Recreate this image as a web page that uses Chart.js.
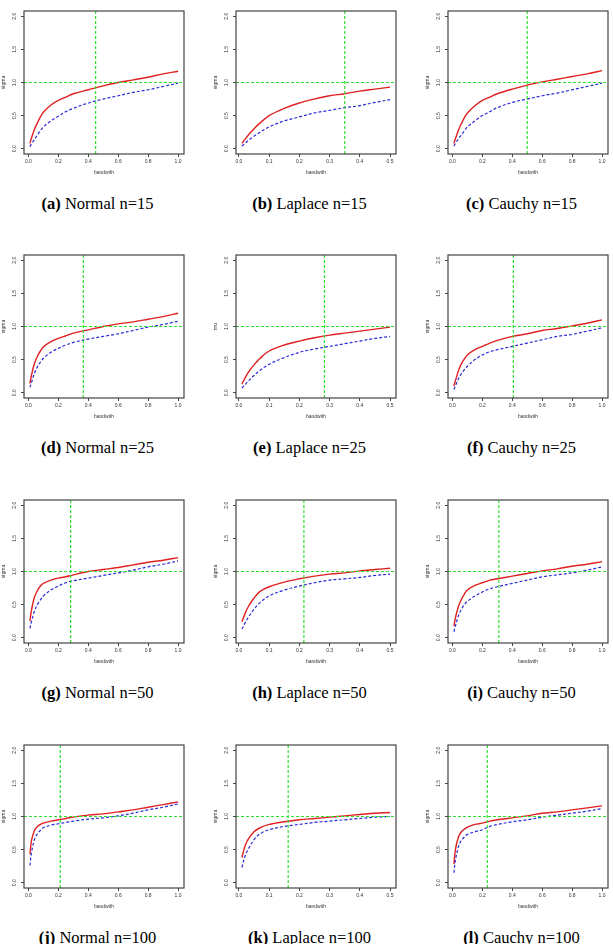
<!DOCTYPE html>
<html>
<head>
<meta charset="utf-8">
<script src="https://cdn.jsdelivr.net/npm/chart.js@4"></script>
<style>
    body { margin: 0; width: 613px; height: 944px; background: #fff; position: relative; overflow: hidden; }
    .panel { position: absolute; }
    .cap {
        position: absolute; white-space: nowrap; transform: translateX(-50%);
        font-family: "Liberation Serif", "DejaVu Serif", serif; font-size: 16.5px; line-height: 16px; color: #000;
    }
</style>
</head>
<body>
<script>
/* ---------- Data ---------- */

const BW_FULL = [0.01, 0.02, 0.04, 0.06, 0.08, 0.1, 0.15, 0.2, 0.25, 0.3, 0.4, 0.5, 0.6, 0.7, 0.8, 0.9, 1.0];
const BW_HALF = [0.01, 0.02, 0.03, 0.05, 0.07, 0.1, 0.15, 0.2, 0.25, 0.3, 0.35, 0.4, 0.45, 0.5];

const X_TICKS_FULL = [0, 0.2, 0.4, 0.6, 0.8, 1.0];
const X_TICKS_HALF = [0, 0.1, 0.2, 0.3, 0.4, 0.5];
const Y_TICKS = [0, 0.5, 1.0, 1.5, 2.0];
const X_RANGE_FULL = [-0.0296, 1.0396];
const X_RANGE_HALF = [-0.0096, 0.5196];
const Y_RANGE = [-0.08, 2.08];
const REF_LEVEL = 1.0;

// Normal
const RED_A  = [0.08, 0.16, 0.29, 0.39, 0.48, 0.55, 0.66, 0.73, 0.78, 0.83, 0.89, 0.95, 1.00, 1.04, 1.08, 1.13, 1.17];
const BLUE_A = [0.03, 0.07, 0.14, 0.21, 0.27, 0.33, 0.42, 0.49, 0.56, 0.61, 0.69, 0.75, 0.80, 0.85, 0.89, 0.94, 0.99];
const RED_D  = [0.14, 0.26, 0.44, 0.55, 0.63, 0.69, 0.77, 0.82, 0.86, 0.90, 0.95, 1.00, 1.04, 1.07, 1.11, 1.15, 1.20];
const BLUE_D = [0.08, 0.15, 0.29, 0.39, 0.46, 0.52, 0.61, 0.67, 0.72, 0.76, 0.81, 0.85, 0.89, 0.94, 0.99, 1.03, 1.08];
const RED_G  = [0.25, 0.41, 0.61, 0.71, 0.78, 0.82, 0.87, 0.90, 0.92, 0.95, 1.00, 1.03, 1.06, 1.10, 1.14, 1.17, 1.21];
const BLUE_G = [0.14, 0.24, 0.40, 0.50, 0.57, 0.63, 0.72, 0.78, 0.83, 0.86, 0.90, 0.94, 0.98, 1.02, 1.07, 1.11, 1.16];
const RED_J  = [0.43, 0.63, 0.79, 0.85, 0.88, 0.90, 0.93, 0.95, 0.97, 0.99, 1.02, 1.04, 1.07, 1.10, 1.14, 1.18, 1.22];
const BLUE_J = [0.26, 0.45, 0.65, 0.74, 0.79, 0.83, 0.87, 0.89, 0.91, 0.93, 0.96, 0.98, 1.01, 1.05, 1.10, 1.14, 1.19];

// Laplace
const RED_B  = [0.08, 0.14, 0.20, 0.30, 0.39, 0.50, 0.61, 0.69, 0.75, 0.80, 0.83, 0.87, 0.90, 0.93];
const BLUE_B = [0.04, 0.08, 0.12, 0.19, 0.25, 0.33, 0.42, 0.48, 0.54, 0.58, 0.62, 0.65, 0.70, 0.74];
const RED_E  = [0.13, 0.22, 0.30, 0.42, 0.52, 0.63, 0.72, 0.78, 0.83, 0.87, 0.90, 0.93, 0.96, 0.99];
const BLUE_E = [0.07, 0.12, 0.17, 0.26, 0.34, 0.43, 0.53, 0.61, 0.66, 0.70, 0.74, 0.78, 0.82, 0.85];
const RED_H  = [0.24, 0.36, 0.46, 0.60, 0.70, 0.77, 0.84, 0.89, 0.93, 0.96, 0.98, 1.01, 1.03, 1.05];
const BLUE_H = [0.13, 0.22, 0.30, 0.43, 0.53, 0.63, 0.72, 0.78, 0.83, 0.87, 0.89, 0.91, 0.94, 0.96];
const RED_K  = [0.38, 0.55, 0.65, 0.77, 0.83, 0.88, 0.92, 0.95, 0.97, 0.99, 1.01, 1.03, 1.05, 1.06];
const BLUE_K = [0.23, 0.40, 0.50, 0.65, 0.74, 0.80, 0.85, 0.88, 0.91, 0.93, 0.95, 0.97, 0.99, 1.00];

// Cauchy
const RED_C  = [0.08, 0.15, 0.28, 0.38, 0.47, 0.54, 0.65, 0.73, 0.78, 0.83, 0.90, 0.96, 1.01, 1.05, 1.09, 1.13, 1.18];
const BLUE_C = [0.04, 0.08, 0.15, 0.21, 0.27, 0.33, 0.42, 0.50, 0.56, 0.62, 0.70, 0.75, 0.80, 0.84, 0.89, 0.94, 0.99];
const RED_F  = [0.10, 0.18, 0.33, 0.44, 0.51, 0.57, 0.65, 0.70, 0.75, 0.79, 0.85, 0.89, 0.94, 0.97, 1.01, 1.05, 1.10];
const BLUE_F = [0.05, 0.10, 0.21, 0.29, 0.35, 0.40, 0.50, 0.57, 0.62, 0.65, 0.70, 0.75, 0.80, 0.85, 0.88, 0.93, 0.98];
const RED_I  = [0.18, 0.30, 0.47, 0.58, 0.66, 0.72, 0.79, 0.83, 0.87, 0.89, 0.93, 0.97, 1.01, 1.04, 1.08, 1.11, 1.15];
const BLUE_I = [0.09, 0.18, 0.33, 0.43, 0.50, 0.55, 0.63, 0.69, 0.74, 0.77, 0.82, 0.87, 0.92, 0.95, 0.98, 1.02, 1.07];
const RED_L  = [0.28, 0.50, 0.69, 0.77, 0.81, 0.84, 0.88, 0.90, 0.93, 0.95, 0.98, 1.01, 1.05, 1.07, 1.10, 1.13, 1.16];
const BLUE_L = [0.15, 0.34, 0.54, 0.64, 0.69, 0.73, 0.77, 0.80, 0.85, 0.88, 0.92, 0.95, 0.99, 1.02, 1.05, 1.08, 1.12];

// selected bandwidths (vertical green lines)
const H_SEL = { a: 0.449, b: 0.35, c: 0.50, d: 0.367, e: 0.283, f: 0.407,
                g: 0.282, h: 0.215, i: 0.31, j: 0.213, k: 0.163, l: 0.233 };

const PANELS = [
    { tag: "a", title: "Normal n=15",   bw: BW_FULL, red: RED_A, blue: BLUE_A, ylab: "sigma" },
    { tag: "b", title: "Laplace n=15",  bw: BW_HALF, red: RED_B, blue: BLUE_B, ylab: "sigma" },
    { tag: "c", title: "Cauchy n=15",   bw: BW_FULL, red: RED_C, blue: BLUE_C, ylab: "sigma" },
    { tag: "d", title: "Normal n=25",   bw: BW_FULL, red: RED_D, blue: BLUE_D, ylab: "sigma" },
    { tag: "e", title: "Laplace n=25",  bw: BW_HALF, red: RED_E, blue: BLUE_E, ylab: "mu" },
    { tag: "f", title: "Cauchy n=25",   bw: BW_FULL, red: RED_F, blue: BLUE_F, ylab: "sigma" },
    { tag: "g", title: "Normal n=50",   bw: BW_FULL, red: RED_G, blue: BLUE_G, ylab: "sigma" },
    { tag: "h", title: "Laplace n=50",  bw: BW_HALF, red: RED_H, blue: BLUE_H, ylab: "sigma" },
    { tag: "i", title: "Cauchy n=50",   bw: BW_FULL, red: RED_I, blue: BLUE_I, ylab: "sigma" },
    { tag: "j", title: "Normal n=100",  bw: BW_FULL, red: RED_J, blue: BLUE_J, ylab: "sigma" },
    { tag: "k", title: "Laplace n=100", bw: BW_HALF, red: RED_K, blue: BLUE_K, ylab: "sigma" },
    { tag: "l", title: "Cauchy n=100",  bw: BW_FULL, red: RED_L, blue: BLUE_L, ylab: "sigma" },
];

/* ---------- Layout ---------- */

const COL_LEFT = [0, 212, 424];
const ROW_TOP = [0, 244, 489, 734];
const CANVAS_W = 189, CANVAS_H = 185;
const AXIS_COLOR = "#444";
const GREEN = "#2ee02e";
const TICK_FONT = { family: "'Liberation Sans', Arial, sans-serif", size: 5 };

// R-style box around the plot region
const framePlugin = {
    id: "frame",
    afterDatasetsDraw(chart) {
        const { ctx, chartArea: a } = chart;
        ctx.save();
        ctx.strokeStyle = AXIS_COLOR;
        ctx.lineWidth = 1.2;
        ctx.strokeRect(a.left, a.top, a.right - a.left, a.bottom - a.top);
        ctx.restore();
    }
};

function xy(xs, ys) {
    return xs.map((x, i) => ({ x, y: ys[i] }));
}

function makeChart(p, idx) {
    const col = idx % 3, row = Math.floor(idx / 3);
    const canvas = document.createElement("canvas");
    canvas.className = "panel";
    canvas.width = CANVAS_W;
    canvas.height = CANVAS_H;
    canvas.style.left = COL_LEFT[col] + "px";
    canvas.style.top = ROW_TOP[row] + "px";
    document.body.appendChild(canvas);

    const full = p.bw === BW_FULL;
    const xr = full ? X_RANGE_FULL : X_RANGE_HALF;
    const xt = full ? X_TICKS_FULL : X_TICKS_HALF;
    const h = H_SEL[p.tag];

    new Chart(canvas, {
        type: "line",
        data: {
            datasets: [
                { data: [{ x: h, y: Y_RANGE[0] }, { x: h, y: Y_RANGE[1] }],
                  borderColor: GREEN, borderWidth: 1.2, borderDash: [3, 2], tension: 0 },
                { data: [{ x: xr[0], y: REF_LEVEL }, { x: xr[1], y: REF_LEVEL }],
                  borderColor: GREEN, borderWidth: 1.2, borderDash: [3, 2], tension: 0 },
                { data: xy(p.bw, p.blue), borderColor: "#2a2ad8", borderWidth: 1.2,
                  borderDash: [3, 2], tension: 0.35 },
                { data: xy(p.bw, p.red), borderColor: "#e02020", borderWidth: 1.4,
                  tension: 0.35 },
            ]
        },
        options: {
            responsive: false,
            animation: false,
            events: [],
            elements: { point: { radius: 0 } },
            datasets: { line: { clip: 0 } },
            layout: { padding: { left: 0, top: 11, right: 5, bottom: 0 } },
            plugins: { legend: { display: false }, tooltip: { enabled: false } },
            scales: {
                x: {
                    type: "linear",
                    min: xr[0], max: xr[1],
                    afterBuildTicks: s => { s.ticks = xt.map(v => ({ value: v })); },
                    afterFit: s => { s.height = 31; },
                    grid: { drawOnChartArea: false, tickLength: 3, color: AXIS_COLOR },
                    border: { display: false },
                    ticks: { autoSkip: false, maxRotation: 0, padding: 2, font: TICK_FONT, color: "#333",
                             callback: v => v.toFixed(1) },
                    title: { display: true, text: "bandwith", font: TICK_FONT, color: "#333",
                             padding: { top: 0, bottom: 9 } }
                },
                y: {
                    min: Y_RANGE[0], max: Y_RANGE[1],
                    afterBuildTicks: s => { s.ticks = Y_TICKS.map(v => ({ value: v })); },
                    afterFit: s => { s.width = 24; },
                    grid: { drawOnChartArea: false, tickLength: 3, color: AXIS_COLOR },
                    border: { display: false },
                    ticks: { autoSkip: false, minRotation: 90, maxRotation: 90, crossAlign: "center",
                             padding: 2.5, font: TICK_FONT, color: "#333",
                             callback: v => v.toFixed(1) },
                    title: { display: true, text: p.ylab, font: TICK_FONT, color: "#333",
                             padding: { top: 1, bottom: 0 } }
                }
            }
        },
        plugins: [framePlugin]
    });

    const cap = document.createElement("div");
    cap.className = "cap";
    cap.style.left = (COL_LEFT[col] + 97.5) + "px";
    cap.style.top = (ROW_TOP[row] + 196) + "px";
    cap.innerHTML = `<b>(${p.tag})</b>&nbsp;${p.title}`;
    document.body.appendChild(cap);
}

PANELS.forEach(makeChart);
</script>
</body>
</html>
